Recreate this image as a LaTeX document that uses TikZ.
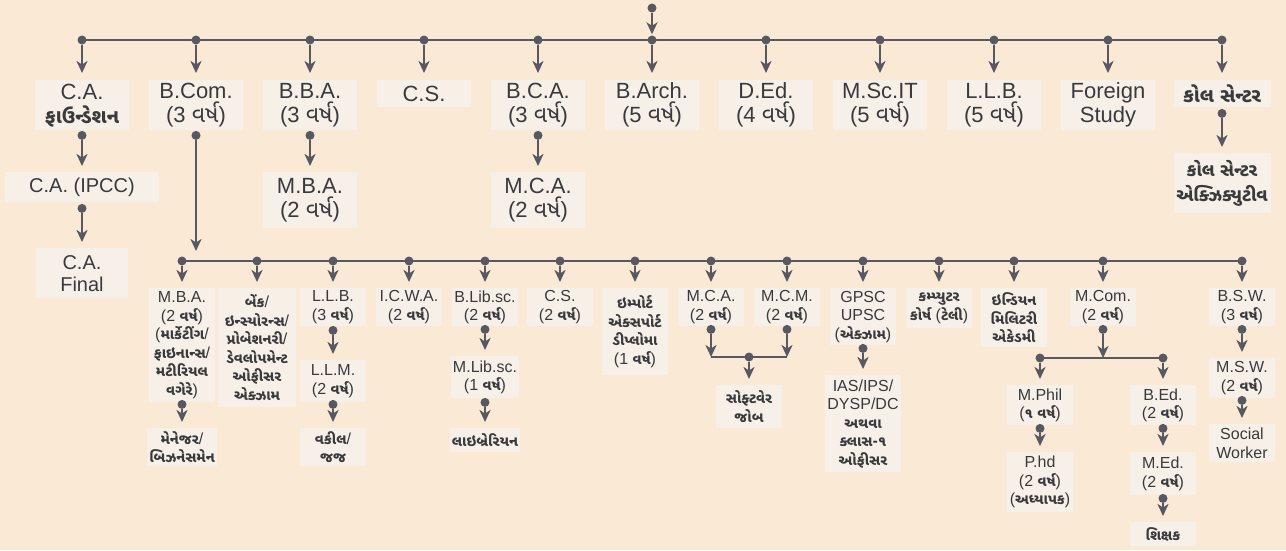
\documentclass[tikz,border=0pt]{standalone}
\usepackage{fontspec}
\setmainfont{Liberation Sans}
\newfontfamily\guj[Script=Gujarati,Scale=0.9]{Noto Sans Gujarati UI}
\newfontfamily\gujbig[Script=Gujarati,Scale=1.05]{Noto Sans Gujarati UI}
\newcommand\gu[1]{{\guj\bfseries #1}}
\newcommand\varsh{{\gujbig વર્ષ}}
\usetikzlibrary{arrows.meta}
\definecolor{bgpeach}{RGB}{250,233,212}
\definecolor{boxfill}{RGB}{246,240,232}
\definecolor{linegray}{RGB}{88,88,98}
\definecolor{textgray}{RGB}{58,58,60}
\begin{document}
\begin{tikzpicture}[x=1pt,y=-1pt,
    topbox/.style={fill=boxfill, text=textgray, align=center, anchor=north,
      minimum width=94pt, inner sep=2pt, font=\fontsize{22}{24}\selectfont},
    midbox/.style={topbox, font=\fontsize{20}{22}\selectfont},
    lowbox/.style={fill=boxfill, text=textgray, align=center, anchor=north,
      minimum width=66pt, inner sep=2pt, font=\fontsize{16}{18.5}\selectfont},
    punto/.style={circle, fill=linegray, inner sep=0pt, minimum size=9pt},
    flecha/.style={draw=linegray, line width=2.3pt,
      -{Stealth[length=12pt,width=11pt,inset=3.5pt]}, shorten >=6pt},
    bus/.style={draw=linegray, line width=2.3pt}]

    % Fondo
    \fill[bgpeach] (0,0) rectangle (1286,550);
    \useasboundingbox (0,0) rectangle (1286,550);

    % Barra superior
    \draw[bus] (82,40) -- (1222,40);
    \node[punto] (src) at (652,8) {};
    \foreach \i in {0,...,10}
        \node[punto] (t\i) at (82+114*\i,40) {};
    \draw[flecha, shorten >=1pt] (src) -- (t5);

    % Cursos despues de la barra superior
    \node[topbox, minimum height=50pt] (ca) at (82,80) {C.A.\\\gu{ફાઉન્ડેશન}};
    \node[topbox, minimum height=50pt] (bcom) at (196,80) {B.Com.\\(3 \varsh)};
    \node[topbox, minimum height=50pt] (bba) at (310,80) {B.B.A.\\(3 \varsh)};
    \node[topbox, minimum height=27pt] (cs) at (424,80) {C.S.};
    \node[topbox, minimum height=50pt] (bca) at (538,80) {B.C.A.\\(3 \varsh)};
    \node[topbox, minimum height=50pt] (barch) at (652,80) {B.Arch.\\(5 \varsh)};
    \node[topbox, minimum height=50pt] (ded) at (766,80) {D.Ed.\\(4 \varsh)};
    \node[topbox, minimum height=50pt] (mscit) at (880,80) {M.Sc.IT\\(5 \varsh)};
    \node[topbox, minimum height=50pt] (llbf) at (994,80) {L.L.B.\\(5 \varsh)};
    \node[topbox, minimum height=50pt] (foreign) at (1108,80) {Foreign\\Study};
    \node[topbox, minimum height=27pt, minimum width=97pt] (call) at (1222,80) {\gu{કોલ સેન્ટર}};
    \foreach \i/\n in {0/ca,1/bcom,2/bba,3/cs,4/bca,5/barch,6/ded,7/mscit,8/llbf,9/foreign,10/call}
        \draw[flecha, shorten >=7pt] (t\i) -- (\n);

    % Segundo nivel
    \node[midbox, minimum width=154pt, minimum height=30pt] (ipcc) at (82,172) {C.A. (IPCC)};
    \node[midbox, minimum width=92pt, minimum height=50pt] (final) at (82,248) {C.A.\\Final};
    \node[topbox, minimum height=56pt] (mbatwo) at (310,172) {M.B.A.\\(2 \varsh)};
    \node[topbox, minimum height=56pt] (mcatwo) at (538,172) {M.C.A.\\(2 \varsh)};
    \node[topbox, minimum width=97pt, minimum height=60pt, font=\fontsize{20}{25}\selectfont] (callexec) at (1222,153)
        {\gu{કોલ સેન્ટર}\\\gu{એક્ઝિક્યુટીવ}};

    \node[punto] (dca) at ([yshift=-5pt]ca.south) {};
    \node[punto] (dipcc) at ([yshift=-6pt]ipcc.south) {};
    \node[punto] (dbcom) at ([yshift=-5pt]bcom.south) {};
    \node[punto] (dbba) at ([yshift=-5pt]bba.south) {};
    \node[punto] (dbca) at ([yshift=-5pt]bca.south) {};
    \node[punto] (dcall) at ([yshift=-6pt]call.south) {};
    \draw[flecha] (dca) -- (ipcc);
    \draw[flecha] (dipcc) -- (final);
    \draw[flecha] (dbba) -- (mbatwo);
    \draw[flecha] (dbca) -- (mcatwo);
    \draw[flecha] (dcall) -- (callexec);

    % Barra inferior (despues de B.Com.)
    \coordinate (bjoin) at (196,261);
    \draw[flecha, shorten >=10pt] (dbcom) -- (bjoin);
    \draw[bus] (182,261) -- (1242,261);
    \foreach \i/\x in {0/182,1/257,2/333,3/409,4/485,5/560,6/635,7/711,8/787,9/863,10/939,11/1014,12/1103,13/1242}
        \node[punto] (b\i) at (\x,261) {};

    \node[lowbox, minimum height=114pt] (bmba) at (182,288)
        {M.B.A.\\(2 \gu{વર્ષ})\\(\gu{માર્કેટીંગ}/\\\gu{ફાઇનાન્સ}/\\\gu{મટીરિયલ}\\\gu{વગેરે})};
    \node[lowbox, minimum height=119pt, minimum width=78pt] (bbank) at (257,288)
        {\gu{બેંક}/\\\gu{ઇન્સ્યોરન્સ}/\\\gu{પ્રોબેશનરી}/\\\gu{ડેવલોપમેન્ટ}\\\gu{ઓફીસર}\\\gu{એક્ઝામ}};
    \node[lowbox, minimum height=38pt] (bllb) at (333,288) {L.L.B.\\(3 \gu{વર્ષ})};
    \node[lowbox, minimum height=38pt] (bicwa) at (409,288) {I.C.W.A.\\(2 \gu{વર્ષ})};
    \node[lowbox, minimum height=38pt] (bblib) at (485,288) {B.Lib.sc.\\(2 \gu{વર્ષ})};
    \node[lowbox, minimum height=38pt] (bcs) at (560,288) {C.S.\\(2 \gu{વર્ષ})};
    \node[lowbox, minimum height=87pt] (bimp) at (635,288)
        {\gu{ઇમ્પોર્ટ}\\\gu{એક્સપોર્ટ}\\\gu{ડીપ્લોમા}\\(1 \gu{વર્ષ})};
    \node[lowbox, minimum height=38pt] (bmca) at (711,288) {M.C.A.\\(2 \gu{વર્ષ})};
    \node[lowbox, minimum height=38pt] (bmcm) at (787,288) {M.C.M.\\(2 \gu{વર્ષ})};
    \node[lowbox, minimum height=57pt] (bgpsc) at (863,288) {GPSC\\UPSC\\(\gu{એક્ઝામ})};
    \node[lowbox, minimum height=40pt] (bcomp) at (939,288) {\gu{કમ્પ્યુટર}\\\gu{કોર્ષ} (\gu{ટેલી})};
    \node[lowbox, minimum height=59pt] (bmil) at (1014,288) {\gu{ઇન્ડિયન}\\\gu{મિલિટરી}\\\gu{એકેડમી}};
    \node[lowbox, minimum height=38pt] (bmcom) at (1103,288) {M.Com.\\(2 \gu{વર્ષ})};
    \node[lowbox, minimum height=38pt] (bbsw) at (1242,288) {B.S.W.\\(3 \gu{વર્ષ})};
    \foreach \i/\n in {0/bmba,1/bbank,2/bllb,3/bicwa,4/bblib,5/bcs,6/bimp,7/bmca,8/bmcm,9/bgpsc,10/bcomp,11/bmil,12/bmcom,13/bbsw}
        \draw[flecha] (b\i) -- (\n);

    % Tercer nivel
    \node[lowbox, minimum height=38pt] (manager) at (182,428) {\gu{મેનેજર}/\\\gu{બિઝનેસમેન}};
    \node[lowbox, minimum height=42pt] (llm) at (333,360) {L.L.M.\\(2 \gu{વર્ષ})};
    \node[lowbox, minimum height=38pt] (judge) at (333,428) {\gu{વકીલ}/\\\gu{જજ}};
    \node[lowbox, minimum height=42pt] (mlib) at (485,356) {M.Lib.sc.\\(1 \gu{વર્ષ})};
    \node[lowbox, minimum height=24pt] (librarian) at (485,428) {\gu{લાઇબ્રેરિયન}};
    \node[lowbox, minimum height=43pt] (software) at (749,385) {\gu{સોફ્ટવેર}\\\gu{જોબ}};
    \node[lowbox, minimum height=97pt] (ias) at (863,375)
        {IAS/IPS/\\DYSP/DC\\\gu{અથવા}\\\gu{ક્લાસ-૧}\\\gu{ઓફીસર}};
    \node[lowbox, minimum height=40pt] (mphil) at (1040,385) {M.Phil\\(\gu{૧ વર્ષ})};
    \node[lowbox, minimum height=60pt] (phd) at (1040,452) {P.hd\\(2 \gu{વર્ષ})\\(\gu{અધ્યાપક})};
    \node[lowbox, minimum height=40pt] (bed) at (1163,385) {B.Ed.\\(2 \gu{વર્ષ})};
    \node[lowbox, minimum height=43pt] (med) at (1163,452) {M.Ed.\\(2 \gu{વર્ષ})};
    \node[lowbox, minimum height=24pt] (teacher) at (1163,522) {\gu{શિક્ષક}};
    \node[lowbox, minimum height=40pt] (msw) at (1242,358) {M.S.W.\\(2 \gu{વર્ષ})};
    \node[lowbox, minimum height=38pt] (social) at (1242,424) {Social\\Worker};

    % Puntos y flechas del tercer nivel
    \node[punto] (dbmba) at ([yshift=-2pt]bmba.south) {};
    \node[punto] (dbllb) at ([yshift=-4pt]bllb.south) {};
    \node[punto] (dllm) at ([yshift=-2pt]llm.south) {};
    \node[punto] (dbblib) at ([yshift=-3pt]bblib.south) {};
    \node[punto] (dmlib) at ([yshift=-4pt]mlib.south) {};
    \node[punto] (dbmca) at ([yshift=-3pt]bmca.south) {};
    \node[punto] (dbmcm) at ([yshift=-3pt]bmcm.south) {};
    \node[punto] (dbgpsc) at ([yshift=-3pt]bgpsc.south) {};
    \node[punto] (dbmcom) at ([yshift=-3pt]bmcom.south) {};
    \node[punto] (dmphil) at ([yshift=-3pt]mphil.south) {};
    \node[punto] (dbed) at ([yshift=-3pt]bed.south) {};
    \node[punto] (dmed) at ([yshift=-3pt]med.south) {};
    \node[punto] (dbbsw) at ([yshift=-3pt]bbsw.south) {};
    \node[punto] (dmsw) at ([yshift=-2pt]msw.south) {};
    \draw[flecha] (dbmba) -- (manager);
    \draw[flecha] (dbllb) -- (llm);
    \draw[flecha] (dllm) -- (judge);
    \draw[flecha] (dbblib) -- (mlib);
    \draw[flecha] (dmlib) -- (librarian);
    \draw[flecha] (dbgpsc) -- (ias);
    \draw[flecha] (dmphil) -- (phd);
    \draw[flecha] (dbed) -- (med);
    \draw[flecha] (dmed) -- (teacher);
    \draw[flecha] (dbbsw) -- (msw);
    \draw[flecha] (dmsw) -- (social);

    % Union M.C.A. y M.C.M.
    \coordinate (jmca) at (711,357);
    \coordinate (jmcm) at (787,357);
    \draw[bus] (jmca) -- (jmcm);
    \draw[flecha, shorten >=0pt] (dbmca) -- (jmca);
    \draw[flecha, shorten >=0pt] (dbmcm) -- (jmcm);
    \node[punto] (dsoft) at (749,357) {};
    \draw[flecha] (dsoft) -- (software);

    % Division de M.Com.
    \coordinate (jmcom) at (1103,358);
    \draw[bus] (1040,358) -- (1163,358);
    \draw[flecha, shorten >=0pt] (dbmcom) -- (jmcom);
    \node[punto] (dphil) at (1040,358) {};
    \node[punto] (dbedtop) at (1163,358) {};
    \draw[flecha] (dphil) -- (mphil);
    \draw[flecha] (dbedtop) -- (bed);
\end{tikzpicture}
\end{document}
